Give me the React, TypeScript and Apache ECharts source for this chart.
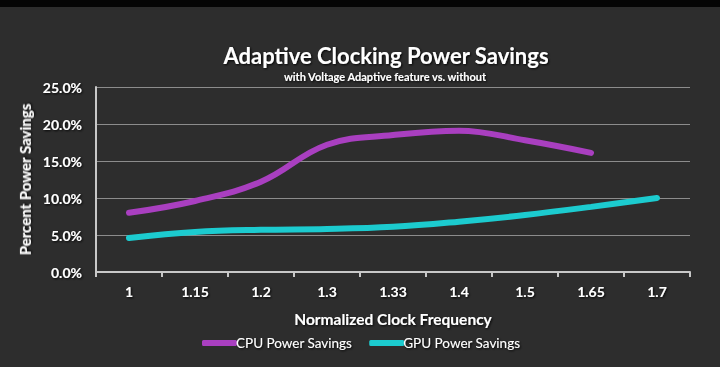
import React, { useEffect, useRef } from "react";
import * as echarts from "echarts";

const categories = ["1", "1.15", "1.2", "1.3", "1.33", "1.4", "1.5", "1.65", "1.7"];
const cpuValues = [8.0, 9.6, 12.2, 17.2, 18.5, 19.1, 17.8, 16.1, null];
const gpuValues = [4.6, 5.4, 5.7, 5.8, 6.1, 6.8, 7.7, 8.8, 10.0];
const seriesNames = ["CPU Power Savings", "GPU Power Savings"];
const title = "Adaptive Clocking Power Savings";
const subtitle = "with Voltage Adaptive feature vs. without";

const FONT = "Lato";
const shadow = { textShadowColor: "rgba(0,0,0,0.9)", textShadowBlur: 2, textShadowOffsetX: 1, textShadowOffsetY: 1 };

export default function App() {
  const ref = useRef<HTMLDivElement>(null);
  useEffect(() => {
    const chart = echarts.init(ref.current!, null, { renderer: "svg" });
    chart.setOption({
      animation: false,
      backgroundColor: "#2d2d2d",
      graphic: [
        { type: "rect", left: 0, top: 0, shape: { width: 720, height: 7 }, style: { fill: "#050505" } },
      ],
      title: [
        {
          text: title,
          left: 381,
          top: 39,
          textAlign: "center",
          textStyle: { color: "#ffffff", fontFamily: FONT, fontWeight: "bold", fontSize: 22, ...shadow },
        },
        {
          text: subtitle,
          left: 380,
          top: 66,
          textAlign: "center",
          textStyle: { color: "#ffffff", fontFamily: FONT, fontWeight: "bold", fontSize: 11, ...shadow },
        },
      ],
      legend: {
        left: 197,
        top: 331,
        itemWidth: 35,
        itemHeight: 6,
        itemGap: 17,
        icon: "roundRect",
        textStyle: { color: "#ffffff", fontFamily: FONT, fontSize: 13.5, padding: [0, 0, 0, -6], ...shadow },
        data: seriesNames,
      },
      grid: { left: 96, right: 30, top: 87, bottom: 95 },
      xAxis: {
        type: "category",
        data: categories,
        boundaryGap: true,
        name: "Normalized Clock Frequency",
        nameLocation: "middle",
        nameGap: 39,
        nameTextStyle: { color: "#ffffff", fontFamily: FONT, fontWeight: "bold", fontSize: 15.5, ...shadow },
        axisLine: { lineStyle: { color: "#c8c8c8", width: 2 } },
        axisTick: { show: true, length: 5, lineStyle: { color: "#c8c8c8", width: 2 } },
        axisLabel: { color: "#ffffff", fontFamily: FONT, fontWeight: "bold", fontSize: 14, margin: 12, ...shadow },
        splitLine: { show: false },
      },
      yAxis: {
        type: "value",
        min: 0,
        max: 25,
        interval: 5,
        name: "Percent Power Savings",
        nameLocation: "middle",
        nameGap: 64,
        nameTextStyle: { color: "#ffffff", fontFamily: FONT, fontWeight: "bold", fontSize: 15, ...shadow },
        axisLine: { show: true, lineStyle: { color: "#c8c8c8", width: 2 } },
        axisTick: { show: false },
        axisLabel: {
          color: "#ffffff",
          fontFamily: FONT,
          fontWeight: "bold",
          fontSize: 14,
          margin: 14,
          formatter: (v: number) => v.toFixed(1) + "%",
          ...shadow,
        },
        splitLine: { lineStyle: { color: "#8c8c8c", width: 1 } },
      },
      series: [
        {
          name: seriesNames[0],
          type: "line",
          data: cpuValues,
          smooth: 0.4,
          showSymbol: false,
          symbol: "none",
          color: "#a93fc0",
          lineStyle: { width: 6, color: "#a93fc0", cap: "round" },
        },
        {
          name: seriesNames[1],
          type: "line",
          data: gpuValues,
          smooth: 0.4,
          showSymbol: false,
          symbol: "none",
          color: "#1ccbcf",
          lineStyle: { width: 6, color: "#1ccbcf", cap: "round" },
        },
      ],
    });
    return () => chart.dispose();
  }, []);
  return <div ref={ref} style={{ position: "fixed", left: 0, top: 0, width: 720, height: 367 }} />;
}
